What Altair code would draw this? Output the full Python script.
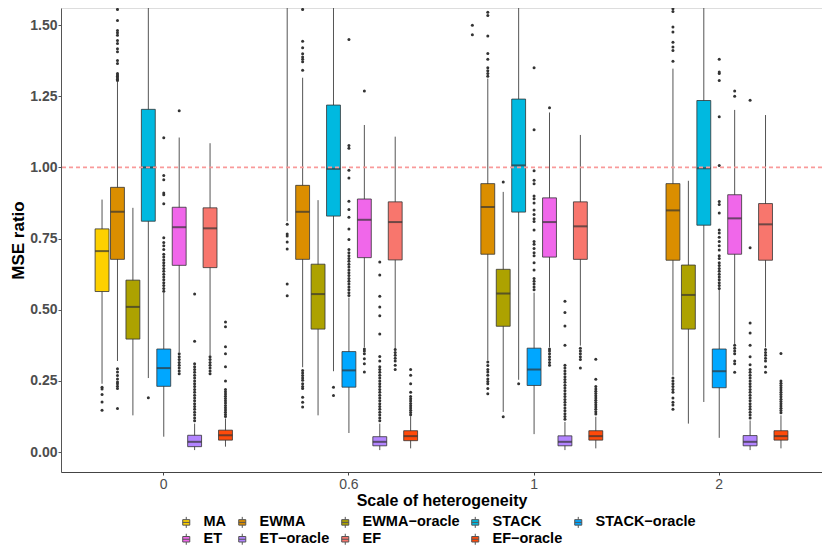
import altair as alt
import pandas as pd

SCALES = ["0", "0.6", "1", "2"]
METHODS = ["MA", "EWMA", "EWMA−oracle", "STACK", "STACK−oracle",
           "ET", "ET−oracle", "EF", "EF−oracle"]
COLORS = ["#FDD000", "#DB8E00", "#ADA200", "#00B9E0", "#00A7FF",
          "#F067EA", "#B385FF", "#F8766D", "#FF4A0A"]

# one row per scale, values in METHODS order (None = not visible in the plot)
LOWER_WHISKER = [
    [0.240, 0.320, 0.129, 0.260, 0.054, 0.351, 0.007, 0.339, 0.019],
    [0.811, 0.298, 0.129, 0.284, 0.067, 0.368, 0.007, 0.362, 0.013],
    [None, 0.322, 0.141, 0.254, 0.063, 0.368, 0.007, 0.374, 0.013],
    [None, 0.269, 0.100, 0.176, 0.050, 0.380, 0.007, 0.368, 0.013],
]
Q1 = [
    [0.564, 0.677, 0.397, 0.811, 0.231, 0.656, 0.019, 0.648, 0.042],
    [None, 0.677, 0.432, 0.829, 0.228, 0.683, 0.022, 0.675, 0.040],
    [None, 0.695, 0.442, 0.843, 0.234, 0.685, 0.022, 0.677, 0.042],
    [None, 0.674, 0.432, 0.797, 0.226, 0.695, 0.022, 0.674, 0.042],
]
MEDIAN = [
    [0.706, 0.844, 0.510, 1.000, 0.295, 0.790, 0.036, 0.786, 0.059],
    [None, 0.844, 0.555, 0.995, 0.287, 0.816, 0.036, 0.808, 0.056],
    [None, 0.861, 0.557, 1.007, 0.290, 0.808, 0.036, 0.793, 0.056],
    [None, 0.849, 0.552, 0.997, 0.284, 0.821, 0.036, 0.800, 0.056],
]
Q3 = [
    [0.784, 0.930, 0.604, 1.204, 0.362, 0.860, 0.059, 0.858, 0.077],
    [None, 0.937, 0.660, 1.219, 0.353, 0.889, 0.054, 0.879, 0.075],
    [None, 0.943, 0.642, 1.240, 0.365, 0.893, 0.057, 0.879, 0.075],
    [None, 0.943, 0.657, 1.235, 0.362, 0.904, 0.058, 0.873, 0.075],
]
UPPER_WHISKER = [
    [0.887, 1.300, 0.858, 1.700, 0.560, 1.105, 0.100, 1.085, 0.118],
    [1.700, 1.315, 0.885, 1.700, 0.543, 1.149, 0.100, 1.108, 0.126],
    [None, 1.312, 0.914, 1.700, 0.560, 1.193, 0.106, 1.114, 0.124],
    [None, 1.347, 0.953, 1.700, 0.572, 1.202, 0.111, 1.184, 0.129],
]

OUTLIERS_0 = {
    "MA": [0.228, 0.222, 0.202, 0.176, 0.147],
    "EWMA": [1.305, 1.31, 1.315, 1.32, 1.325, 1.33, 1.365, 1.376, 1.406, 1.417, 1.435,
             1.446, 1.464, 1.473, 1.481, 1.516, 1.555,
             0.293, 0.281, 0.269, 0.257, 0.246, 0.24, 0.231, 0.223, 0.153],
    "EWMA−oracle": [],
    "STACK": [0.191],
    "STACK−oracle": [1.104, 0.972, 0.957, 0.910, 0.904, 0.872, 0.753, 0.736, 0.725, 0.712,
                     0.695, 0.685, 0.675, 0.665, 0.655, 0.645, 0.635, 0.625, 0.615, 0.605,
                     0.595, 0.585, 0.575, 0.565],
    "ET": [1.199, 0.345, 0.335, 0.325, 0.315, 0.305, 0.295, 0.285, 0.275],
    "ET−oracle": [0.555, 0.389, 0.31, 0.30, 0.29, 0.28, 0.27, 0.26, 0.25, 0.24, 0.23, 0.22,
                  0.21, 0.20, 0.19, 0.18, 0.17, 0.16, 0.15, 0.14, 0.13, 0.12, 0.11],
    "EF": [0.335, 0.325, 0.315, 0.305, 0.295, 0.285, 0.275],
    "EF−oracle": [0.457, 0.44, 0.37, 0.345, 0.30, 0.25, 0.22, 0.212, 0.204, 0.196, 0.188,
                  0.18, 0.172, 0.164, 0.156, 0.148, 0.14, 0.132, 0.125],
}
OUTLIERS_06 = {
    "MA": [0.80, 0.766, 0.759, 0.738, 0.713, 0.59, 0.549],
    "EWMA": [1.341, 1.371, 1.38, 1.388, 1.399, 1.42, 1.443, 1.555,
             0.287, 0.278, 0.269, 0.26, 0.252, 0.24, 0.23, 0.223, 0.193, 0.175, 0.158],
    "EWMA−oracle": [],
    "STACK": [0.228, 0.199],
    "STACK−oracle": [1.449, 1.077, 1.067, 0.99, 0.963, 0.881, 0.852, 0.825, 0.784, 0.747,
                     0.712, 0.70, 0.69, 0.68, 0.67, 0.66, 0.65, 0.64, 0.63, 0.62, 0.61,
                     0.60, 0.59, 0.58, 0.57, 0.56, 0.55],
    "ET": [1.268, 0.362, 0.355, 0.345, 0.328, 0.31, 0.281],
    "ET−oracle": [0.668, 0.622, 0.547, 0.510, 0.479, 0.415, 0.336, 0.32, 0.30, 0.29, 0.28,
                  0.27, 0.26, 0.25, 0.24, 0.23, 0.22, 0.21, 0.20, 0.19, 0.18, 0.17, 0.16,
                  0.15, 0.14, 0.13, 0.12, 0.11],
    "EF": [1.566, 0.36, 0.35, 0.34, 0.33, 0.32, 0.305, 0.29],
    "EF−oracle": [0.29, 0.27, 0.24, 0.21, 0.195, 0.187, 0.179, 0.171, 0.163, 0.155, 0.147,
                  0.139, 0.131],
}
OUTLIERS_1 = {
    "MA": [1.499, 1.466],
    "EWMA": [1.32, 1.33, 1.34, 1.35, 1.38, 1.40, 1.462, 1.534, 1.545,
             0.316, 0.304, 0.29, 0.281, 0.27, 0.257, 0.248, 0.24, 0.223, 0.205],
    "EWMA−oracle": [0.949, 0.124],
    "STACK": [0.240],
    "STACK−oracle": [1.35, 1.132, 0.988, 0.955, 0.943, 0.90, 0.89, 0.875, 0.85, 0.835,
                     0.82, 0.81, 0.78, 0.74, 0.73, 0.715, 0.70, 0.69, 0.665, 0.64, 0.61,
                     0.60, 0.59, 0.58, 0.57],
    "ET": [1.210, 0.362, 0.355, 0.345, 0.335, 0.325, 0.315, 0.305],
    "ET−oracle": [0.53, 0.49, 0.443, 0.375, 0.305, 0.295, 0.285, 0.275, 0.265, 0.255,
                  0.245, 0.235, 0.225, 0.215, 0.205, 0.195, 0.185, 0.175, 0.165, 0.155,
                  0.145, 0.135, 0.125, 0.115],
    "EF": [0.365, 0.355, 0.345, 0.335, 0.325, 0.295],
    "EF−oracle": [0.326, 0.256, 0.23, 0.222, 0.214, 0.206, 0.198, 0.19, 0.182, 0.174,
                  0.166, 0.158, 0.15, 0.142, 0.134],
}
OUTLIERS_2 = {
    "MA": [],
    "EWMA": [1.373, 1.411, 1.423, 1.44, 1.476, 1.493, 1.548, 1.557,
             0.26, 0.25, 0.24, 0.23, 0.22, 0.21, 0.19, 0.175, 0.165, 0.15],
    "EWMA−oracle": [],
    "STACK": [],
    "STACK−oracle": [1.38, 1.335, 1.33, 1.305, 1.178, 1.007, 0.88, 0.87, 0.84, 0.78, 0.77,
                     0.755, 0.74, 0.725, 0.71, 0.69, 0.68, 0.665, 0.655, 0.645, 0.635,
                     0.625, 0.615, 0.605, 0.595, 0.585, 0.575],
    "ET": [1.268, 1.25, 0.375, 0.365, 0.355, 0.345, 0.32, 0.31, 0.28],
    "ET−oracle": [1.236, 0.718, 0.453, 0.418, 0.375, 0.335, 0.307, 0.29, 0.28, 0.27, 0.26,
                  0.25, 0.24, 0.23, 0.22, 0.21, 0.20, 0.19, 0.18, 0.17, 0.16, 0.15, 0.14,
                  0.13, 0.12],
    "EF": [0.36, 0.35, 0.34, 0.33, 0.32, 0.30, 0.28],
    "EF−oracle": [0.346, 0.25, 0.242, 0.234, 0.226, 0.218, 0.21, 0.202, 0.194, 0.186,
                  0.178, 0.17, 0.162, 0.154, 0.146, 0.138],
}
OUTLIERS = [OUTLIERS_0, OUTLIERS_06, OUTLIERS_1, OUTLIERS_2]

# ---- build tables ----
box_rows, whisk_rows, out_rows = [], [], []
for i, s in enumerate(SCALES):
    for j, m in enumerate(METHODS):
        if LOWER_WHISKER[i][j] is not None:
            whisk_rows.append({"scale": s, "method": m,
                               "lo": LOWER_WHISKER[i][j], "hi": UPPER_WHISKER[i][j]})
        if Q1[i][j] is not None:
            box_rows.append({"scale": s, "method": m, "q1": Q1[i][j],
                             "med": MEDIAN[i][j], "q3": Q3[i][j]})
        for v in OUTLIERS[i][m]:
            out_rows.append({"scale": s, "method": m, "v": v})

box_df = pd.DataFrame(box_rows)
whisk_df = pd.DataFrame(whisk_rows)
out_df = pd.DataFrame(out_rows)
ref_df = pd.DataFrame({"v": [1.0]})

FONT = "Liberation Sans"
PAD_LEFT = 53
W, H = 814 - PAD_LEFT, 464

yscale = alt.Scale(domain=[-0.07, 1.56], nice=False, zero=False)
xenc = alt.X("scale:N", sort=SCALES,
             scale=alt.Scale(domain=SCALES, paddingInner=0.25, paddingOuter=0.18),
             axis=alt.Axis(title="Scale of heterogeneity", labelAngle=0, labelFontSize=14,
                           labelColor="#4D4D4D", labelFont=FONT, tickSize=3,
                           labelPadding=2, titleFontSize=16, titleFontWeight="bold",
                           titleColor="black", titleFont=FONT, titlePadding=1,
                           domainColor="#444", tickColor="#444", grid=False))
xoff = alt.XOffset("method:N", sort=METHODS,
                   scale=alt.Scale(domain=METHODS, paddingInner=0.1, paddingOuter=0.05))
yaxis = alt.Axis(title="MSE ratio", values=[0, 0.25, 0.5, 0.75, 1.0, 1.25, 1.5],
                 format=".2f", grid=False, labelFontWeight="bold", labelFontSize=14,
                 labelColor="#4D4D4D", labelFont=FONT, titleFontSize=17,
                 titleFontWeight="bold", titleColor="black", titleFont=FONT,
                 tickSize=3, labelPadding=1, titlePadding=2,
                 domainColor="#555", tickColor="#555")

BOX_ICON = ("M-0.64,-0.5H0.64V0.5H-0.64Z M0,-1V-0.5 M0,0.5V1 M-0.64,0H0.64")

whiskers = alt.Chart(whisk_df).mark_rule(color="#555", strokeWidth=1, clip=True).encode(
    x=xenc, xOffset=xoff,
    y=alt.Y("lo:Q", scale=yscale, axis=yaxis), y2="hi:Q")

boxes = alt.Chart(box_df).mark_bar(stroke="#333", strokeWidth=0.8, clip=True).encode(
    x=xenc, xOffset=xoff,
    y=alt.Y("q1:Q", scale=yscale), y2="q3:Q",
    fill=alt.Fill("method:N", sort=METHODS,
                  scale=alt.Scale(domain=METHODS, range=COLORS),
                  legend=alt.Legend(title=None, orient="none", legendX=118, legendY=507,
                                    direction="horizontal", columns=5,
                                    symbolType=BOX_ICON, symbolSize=121,
                                    symbolStrokeColor="#555", symbolStrokeWidth=1,
                                    labelFont=FONT, labelFontSize=14.5,
                                    labelFontWeight="bold", labelColor="black",
                                    labelOffset=10, columnPadding=8, rowPadding=1,
                                    padding=0)))

medians = alt.Chart(box_df).mark_tick(color="#333", thickness=2, size=13.9, clip=True).encode(
    x=xenc, xOffset=xoff, y=alt.Y("med:Q", scale=yscale))

points = alt.Chart(out_df).mark_circle(size=9, color="#333", opacity=1, clip=True).encode(
    x=xenc, xOffset=xoff, y=alt.Y("v:Q", scale=yscale))

refline = alt.Chart(ref_df).mark_rule(color="#F99A9A", strokeDash=[4, 3],
                                      strokeWidth=1.6).encode(
    y=alt.Y("v:Q", scale=yscale))

chart = alt.layer(whiskers, boxes, medians, points, refline).properties(
    width=W, height=H,
    autosize=alt.AutoSizeParams(type="none"),
    padding={"left": PAD_LEFT, "top": 0, "right": 0, "bottom": 74},
    background="white",
).configure_view(stroke=None).configure(font=FONT)

chart.save("out.html", embed_options={"renderer": "svg", "actions": False})
